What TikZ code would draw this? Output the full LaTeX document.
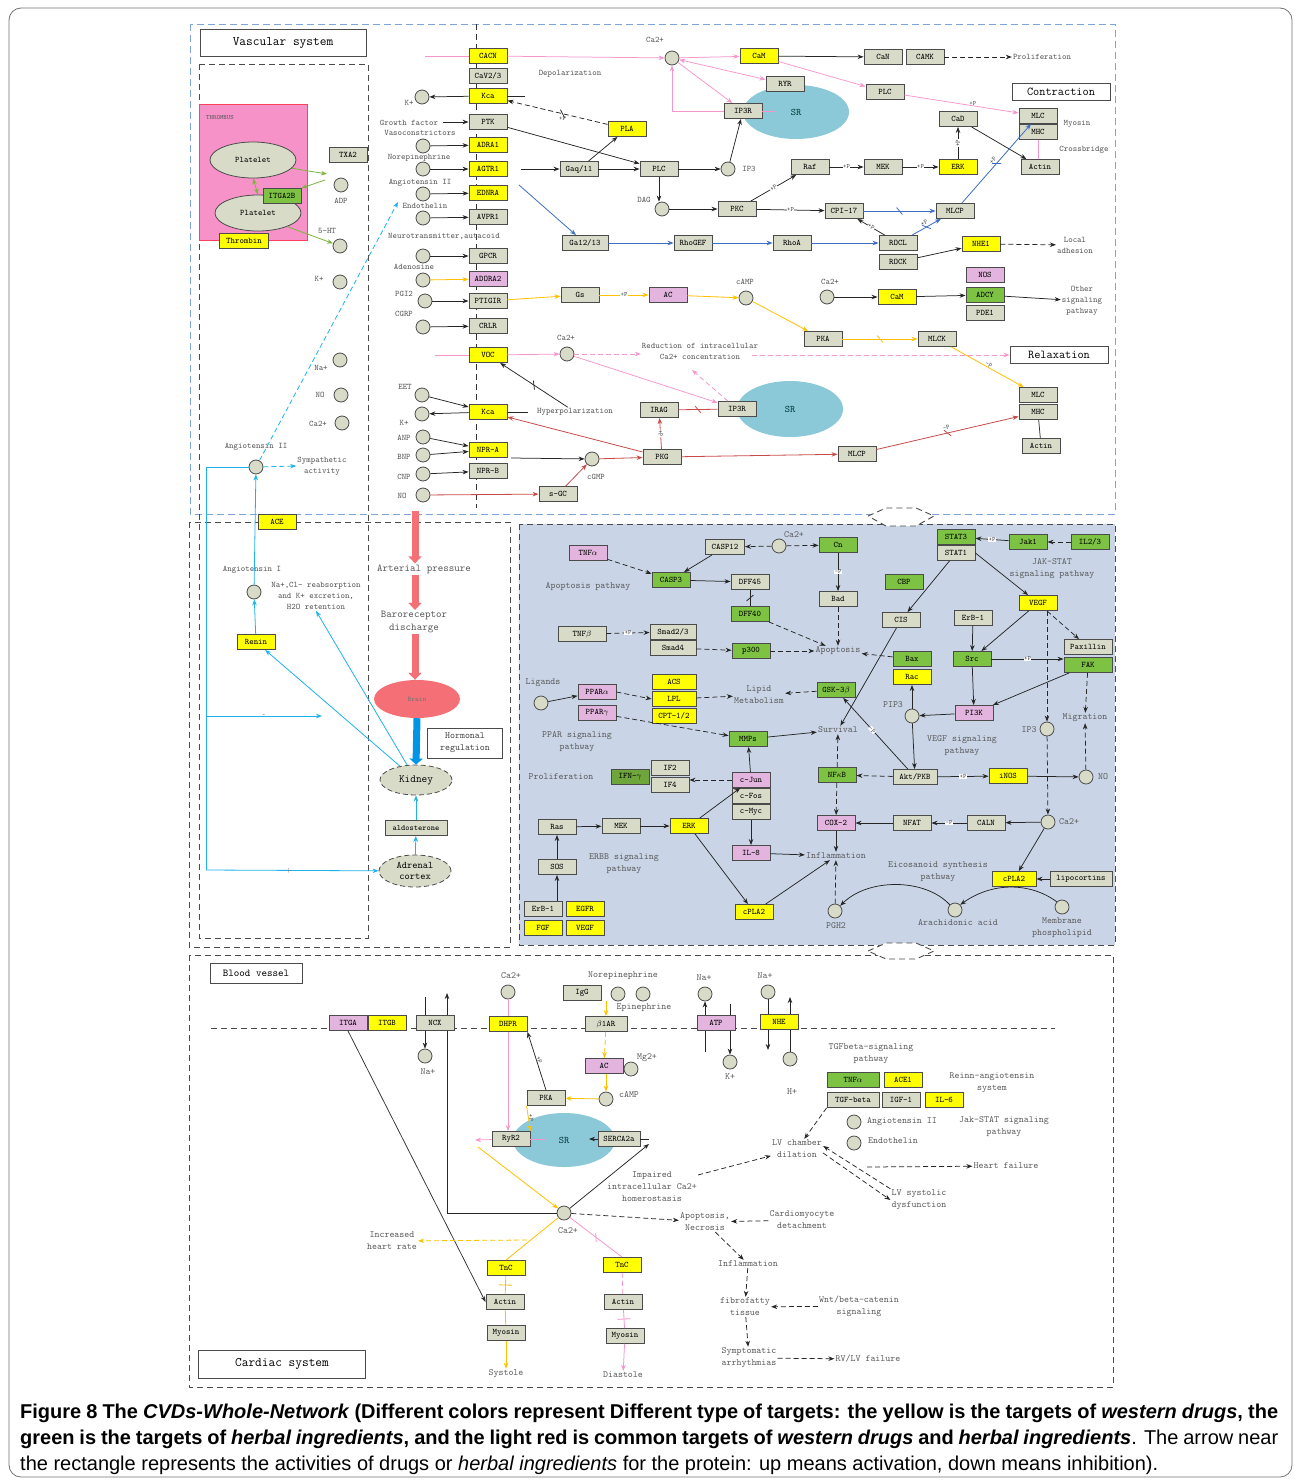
\documentclass[tikz,border=0pt]{standalone}
\usepackage{fontspec}
\newfontfamily\capfont{Liberation Sans}
\usetikzlibrary{positioning,calc,arrows.meta,shapes.geometric}
\tikzset{>={Stealth[length=6pt,width=4.5pt]}}
\definecolor{boxg}{RGB}{216,219,200}
\definecolor{boxy}{RGB}{255,255,0}
\definecolor{boxp}{RGB}{226,180,222}
\definecolor{boxgr}{RGB}{125,194,66}
\definecolor{boxdg}{RGB}{110,166,60}
\definecolor{lpink}{RGB}{246,150,205}
\definecolor{lorange}{RGB}{255,192,0}
\definecolor{lblue}{RGB}{60,110,195}
\definecolor{lred}{RGB}{200,75,75}
\definecolor{lcyan}{RGB}{30,178,236}
\definecolor{lgreen}{RGB}{125,180,60}
\definecolor{frameb}{RGB}{125,165,215}
\definecolor{panel}{RGB}{201,213,230}
\definecolor{srblue}{RGB}{140,201,216}
\definecolor{thromb}{RGB}{246,146,200}
\definecolor{brain}{RGB}{245,112,118}
\definecolor{kblue}{RGB}{0,150,230}
\definecolor{edge}{RGB}{75,75,75}
\newcommand*{\boxfont}{\fontsize{8.5}{9}\selectfont\ttfamily}
\newcommand*{\lblfont}{\fontsize{8.5}{11}\selectfont\ttfamily}
\newcommand*{\lblbfont}{\fontsize{9.5}{12}\selectfont\ttfamily}
\tikzset{
  dashed/.style={dash pattern=on 5pt off 3pt},
  gbox/.style={draw=edge, line width=.9pt, fill=boxg, minimum width=38pt, minimum height=15pt, inner sep=1pt, font=\boxfont},
  ybox/.style={gbox, fill=boxy},
  pbox/.style={gbox, fill=boxp},
  grbox/.style={gbox, fill=boxgr},
  sig/.style={circle, draw=edge, line width=.8pt, fill=boxg, minimum size=14pt, inner sep=0pt},
  ell/.style={ellipse, draw=edge, line width=.8pt, fill=boxg, inner sep=0pt},
  lbl/.style={font=\lblfont, text=black!65, align=center, inner sep=1pt},
  lblb/.style={font=\lblbfont, text=black!65, align=center, inner sep=1pt},
  titlebox/.style={draw=edge, line width=.9pt, fill=white, inner sep=1pt, font=\fontsize{13}{14}\selectfont\ttfamily},
  pl/.style={fill=white, inner sep=.3pt, font=\fontsize{6.5}{7}\selectfont\ttfamily, text=black!70},
  cut/.style={sloped, draw, minimum height=9pt, minimum width=0pt, inner sep=0pt, rotate=40},
  bar/.style={sloped, draw, minimum height=13pt, minimum width=0pt, inner sep=0pt},
  blk/.style={->, line width=.75pt, black!85},
  pk/.style={->, line width=.75pt, lpink},
  og/.style={->, line width=.8pt, lorange},
  bl/.style={->, line width=.8pt, lblue},
  rd/.style={->, line width=.8pt, lred},
  cy/.style={->, line width=.8pt, lcyan},
  gn/.style={->, line width=.8pt, lgreen},
  bigr/.style={line width=7pt, brain, -{Triangle[length=7pt,width=13pt]}},
  frm/.style={draw=edge, line width=.9pt, dash pattern=on 6pt off 4pt}
}
\begin{document}
\begin{tikzpicture}[x=1pt,y=-1pt]
\useasboundingbox (0,0) rectangle (1295,1483);
\fill[white] (0,0) rectangle (1295,1483);
\draw[black!55, line width=.8pt, rounded corners=12pt] (9,8) rectangle (1292,1477);

\draw[frameb, line width=1pt, dash pattern=on 7pt off 4pt] (190,24) rectangle (1115,514);
\draw[frm] (199,64) rectangle (368,938);
\draw[frm, draw=black!80] (476,24) -- (476,508);
\draw[frm] (189,522) rectangle (510,947);
\fill[panel] (519,524) rectangle (1115,945);
\draw[frm] (519,524) rectangle (1115,945);
\draw[frm] (189,955) rectangle (1113,1387);
\draw[frm] (211,1028) -- (1055,1028);
\draw[frm, fill=white] (868,516) -- (886,508) -- (916,508) -- (934,516) -- (916,526) -- (886,526) -- cycle;
\draw[frm, fill=white] (868,951) -- (886,943) -- (916,943) -- (934,951) -- (916,959) -- (886,959) -- cycle;

\node[titlebox, minimum width=166pt, minimum height=27pt] (vas) at (283,43) {Vascular system};
\node[titlebox, minimum width=98pt, minimum height=17pt, font=\fontsize{12}{13}\selectfont\ttfamily] (con) at (1061,92) {Contraction};
\node[titlebox, minimum width=98pt, minimum height=17pt, font=\fontsize{12}{13}\selectfont\ttfamily] (rel) at (1059,355) {Relaxation};
\node[titlebox, minimum width=92pt, minimum height=20pt, font=\fontsize{10.5}{12}\selectfont\ttfamily] (bv) at (256,973) {Blood vessel};
\node[titlebox, minimum width=167pt, minimum height=28pt] (card) at (282,1364) {Cardiac system};

\node[draw=red!55!thromb, line width=.9pt, fill=thromb, minimum width=108pt, minimum height=136pt, anchor=north west, inner sep=0pt] (thr) at (199,104) {};
\node[lbl, font=\fontsize{6.5}{7}\selectfont\ttfamily, anchor=west] (thrl) at (205,118) {THROMBUS};
\node[ell, minimum width=86pt, minimum height=36pt, font=\lblfont] (pl1) at (253,160) {Platelet};
\node[ell, minimum width=86pt, minimum height=36pt, font=\lblfont] (pl2) at (258,213) {Platelet};
\node[grbox] (itg) at (282,196) {ITGA2B};
\node[ybox, minimum width=49pt] (thb) at (244,241) {Thrombin};
\node[gbox] (txa) at (348,155) {TXA2};
\node[sig] (adp) at (341,185) {};
\node[lbl] (adpl) at (341,201) {ADP};
\node[lbl] (htl) at (327,231) {5-HT};
\node[sig] (ht) at (340,246) {};
\node[sig] (kl) at (340,282) {};
\node[lbl] (kll) at (319,279) {K+};
\node[sig] (nal) at (340,360) {};
\node[lbl] (nall) at (321,368) {Na+};
\node[sig] (nol) at (341,395) {};
\node[lbl] (noll) at (320,395) {NO};
\node[sig] (cal) at (342,423) {};
\node[lbl] (call) at (318,424) {Ca2+};
\coordinate (gr1) at (327,174);
\coordinate (gr2) at (325,180);
\draw[gn] (pl1.-12) -- (gr1);
\draw[gn] (gr2) -- (itg.north east);
\draw[gn, <->] (pl1.south) -- (pl2.north);
\draw[gn] (pl2.-25) -- (ht);

\node[sig] (ang2) at (256,467) {};
\node[lbl] (ang2l) at (256,447) {Angiotensin II};
\node[lbl] (syml) at (322,466) {Sympathetic\\activity};
\coordinate (angt) at (398,202);
\draw[cy, dashed] (ang2) -- (angt);
\draw[cy, dashed] (ang2) -- (syml.west);
\node[ybox] (ace) at (277,522) {ACE};
\node[sig] (ang1) at (254,592) {};
\node[lbl] (ang1l) at (252,570) {Angiotensin I};
\node[ybox] (ren) at (256,642) {Renin};
\node[lbl] (nacl) at (316,596) {Na+,Cl- reabsorption\\and K+ excretion,\\H2O retention};
\draw[cy] (ren) -- (ang1);
\draw[cy] (ang1) -- (ang2);

\coordinate (art0) at (415,511);
\node[lbl, font=\fontsize{10.5}{13}\selectfont\ttfamily] (art) at (424,569) {Arterial pressure};
\node[lbl, font=\fontsize{10.5}{13}\selectfont\ttfamily] (baro) at (414,622) {Baroreceptor\\discharge};
\node[ellipse, fill=brain, minimum width=86pt, minimum height=38pt, inner sep=0pt, font=\fontsize{7}{8}\selectfont\ttfamily, text=black!55] (brn) at (417,699) {Brain};
\node[ell, dashed, minimum width=72pt, minimum height=30pt, font=\fontsize{11}{12}\selectfont\ttfamily] (kid) at (416,780) {Kidney};
\node[draw=edge, line width=.9pt, align=center, minimum width=75pt, minimum height=30pt, inner sep=1pt, font=\fontsize{9.5}{12}\selectfont\ttfamily, text=black!75] (horm) at (465,743) {Hormonal\\regulation};
\node[gbox, minimum width=62pt, font=\fontsize{8}{9}\selectfont\ttfamily] (ald) at (416,828) {aldosterone};
\node[ell, dashed, minimum width=72pt, minimum height=32pt, align=center, font=\fontsize{10}{11}\selectfont\ttfamily] (adr) at (415,871) {Adrenal\\cortex};
\draw[bigr] (art0) -- (art0 |- art.north);
\draw[bigr] (art.south -| art0) -- (baro.north -| art0);
\draw[bigr] (baro.south -| art0) -- (brn.north -| art0);
\draw[line width=7pt, kblue, -{Triangle[length=6pt,width=13pt]}] (brn.south) -- (kid.north);
\draw[cy] (adr) -- (ald);
\draw[cy] (ald) -- (kid);
\draw[cy] (kid) -- (ren);
\draw[cy] (kid) -- (nacl.south);
\coordinate (cyt) at (206,467);
\coordinate (cym) at (206,716);
\coordinate (cymr) at (322,716);
\coordinate (cyb) at (206,870);
\draw[lcyan, line width=.8pt] (ang2.west) -- (cyt) -- (cyb);
\draw[cy] (cym) -- node[pos=.5, font=\fontsize{7}{7}\selectfont, text=black!60, inner sep=0pt]{-} (cymr);
\draw[cy] (cyb) -- node[pos=.48, font=\fontsize{7}{7}\selectfont, text=black!60, inner sep=0pt]{+} (adr);

\node[ybox] (cacn) at (488,56) {CACN};
\node[gbox] (cav) at (488,76) {CaV2/3};
\node[ybox] (kca) at (488,96) {Kca};
\node[gbox] (ptk) at (488,122) {PTK};
\node[ybox] (adra) at (488,145) {ADRA1};
\node[ybox] (agtr) at (488,169) {AGTR1};
\node[ybox] (ednra) at (488,193) {EDNRA};
\node[gbox] (avpr) at (488,217) {AVPR1};
\node[gbox] (gpcr) at (488,256) {GPCR};
\node[pbox] (adora) at (488,279) {ADORA2};
\node[gbox] (ptgir) at (488,301) {PTIGIR};
\node[gbox] (crlr) at (488,326) {CRLR};
\node[ybox] (voc) at (488,355) {VOC};
\node[ybox] (kcb) at (488,412) {Kca};
\node[ybox] (npra) at (488,450) {NPR-A};
\node[gbox] (nprb) at (488,471) {NPR-B};

\node[sig] (kp) at (422,97) {};
\node[sig] (nep) at (423,146) {};
\node[sig] (ang) at (423,169) {};
\node[sig] (endo) at (423,194) {};
\node[sig] (ntr) at (423,218) {};
\node[sig] (gp) at (423,256) {};
\node[sig] (ado) at (423,280) {};
\node[sig] (pgi) at (425,301) {};
\node[sig] (cgrp) at (423,327) {};
\node[sig] (eet) at (422,395) {};
\node[sig] (kq) at (422,414) {};
\node[sig] (anp) at (423,437) {};
\node[sig] (bnp) at (423,455) {};
\node[sig] (cnp) at (423,474) {};
\node[sig] (no) at (423,495) {};
\node[lbl] (kpl) at (409,103) {K+};
\node[lbl] (gfl) at (409,123) {Growth factor};
\node[lbl] (vcl) at (420,133) {Vasoconstrictors};
\node[lbl] (nel) at (419,158) {Norepinephrine};
\node[lbl] (angl) at (420,183) {Angiotensin II};
\node[lbl] (endl) at (425,206) {Endothelin};
\node[lbl] (ntl) at (444,236) {Neurotransmitter,autacoid};
\node[lbl] (adl) at (414,267) {Adenosine};
\node[lbl] (pgl) at (404,294) {PGI2};
\node[lbl] (cgl) at (404,314) {CGRP};
\node[lbl] (eetl) at (405,387) {EET};
\node[lbl] (kql) at (404,423) {K+};
\node[lbl] (anpl) at (404,438) {ANP};
\node[lbl] (bnpl) at (404,457) {BNP};
\node[lbl] (cnpl) at (404,477) {CNP};
\node[lbl] (nol2) at (402,496) {NO};

\node[ellipse, fill=srblue, minimum width=106pt, minimum height=54pt, inner sep=0pt, font=\fontsize{10}{12}\selectfont\ttfamily, text=black!55!teal] (sr1) at (796,112) {SR};
\node[ellipse, fill=srblue, minimum width=106pt, minimum height=56pt, inner sep=0pt, font=\fontsize{10}{12}\selectfont\ttfamily, text=black!55!teal] (sr2) at (790,409) {SR};
\node[sig] (ca1) at (672,58) {};
\node[lbl] (ca1l) at (655,40) {Ca2+};
\node[lbl] (depl) at (570,74) {Depolarization};
\node[ybox] (cam) at (759,56) {CaM};
\node[gbox] (can) at (883,57) {CaN};
\node[gbox] (camk) at (925,57) {CAMK};
\node[lbl] (prol) at (1042,57) {Proliferation};
\node[gbox] (ryr) at (785,84) {RYR};
\node[gbox] (plc1) at (885,92) {PLC};
\node[gbox] (ip3r) at (743,111) {IP3R};
\node[ybox] (pla) at (627,129) {PLA};
\node[gbox] (gaq) at (579,169) {Gaq/11};
\node[gbox] (plc2) at (659,169) {PLC};
\node[sig] (ip3) at (728,169) {};
\node[lbl] (ip3l) at (749,169) {IP3};
\node[sig] (dag) at (662,209) {};
\node[lbl] (dagl) at (644,200) {DAG};
\node[gbox] (pkc) at (737,209) {PKC};
\node[gbox] (raf) at (810,167) {Raf};
\node[gbox] (mek) at (883,167) {MEK};
\node[ybox] (erk) at (958,167) {ERK};
\node[gbox] (cad) at (958,119) {CaD};
\node[gbox] (mlc) at (1038,116) {MLC};
\node[gbox] (mhc) at (1038,132) {MHC};
\node[gbox] (act1) at (1040,167) {Actin};
\node[lbl] (myol) at (1077,124) {Myosin};
\node[lbl] (crol) at (1084,150) {Crossbridge};
\node[gbox] (cpi) at (844,211) {CPI-17};
\node[gbox] (mlcp) at (955,211) {MLCP};
\node[gbox, minimum width=46pt] (ga12) at (585,243) {Ga12/13};
\node[gbox] (rhogef) at (693,243) {RhoGEF};
\node[gbox] (rhoa) at (792,243) {RhoA};
\node[gbox] (rocl) at (898,243) {ROCL};
\node[gbox] (rock) at (898,262) {ROCK};
\node[ybox] (nhe1) at (981,244) {NHE1};
\node[lbl] (locl) at (1075,245) {Local\\adhesion};
\node[pbox] (nos) at (985,275) {NOS};
\node[grbox] (adcy) at (985,295) {ADCY};
\node[gbox] (pde) at (985,313) {PDE1};
\node[sig] (ca2) at (827,297) {};
\node[lbl] (ca2l) at (830,282) {Ca2+};
\node[ybox] (cam2) at (897,297) {CaM};
\node[lbl] (othl) at (1082,301) {Other\\signaling\\pathway};
\node[gbox] (gs) at (580,295) {Gs};
\node[pbox] (ac) at (668,295) {AC};
\node[sig] (camp) at (746,298) {};
\node[lbl] (campl) at (745,282) {cAMP};
\node[gbox] (pka) at (823,339) {PKA};
\node[gbox] (mlck) at (937,339) {MLCK};
\node[gbox] (mlc2) at (1038,395) {MLC};
\node[gbox] (mhc2) at (1038,412) {MHC};
\node[gbox] (act2) at (1041,446) {Actin};
\node[sig] (ca3) at (567,354) {};
\node[lbl] (ca3l) at (566,338) {Ca2+};
\node[lbl] (redl) at (700,351) {Reduction of intracellular\\Ca2+ concentration};
\node[lbl] (hyp) at (575,412) {Hyperpolarization};
\node[gbox] (irag) at (659,410) {IRAG};
\node[gbox] (ip3r2) at (737,409) {IP3R};
\node[sig] (cgmp) at (592,459) {};
\node[lbl] (cgmpl) at (596,477) {cGMP};
\node[gbox] (sgc) at (558,494) {s-GC};
\node[gbox] (pkg) at (662,457) {PKG};
\node[gbox] (mlcp2) at (857,454) {MLCP};

\coordinate (pkw) at (425,56);
\coordinate (kcae) at (525,96);
\coordinate (gfe) at (443,122);
\coordinate (agtre) at (521,169);
\coordinate (agtrb) at (519,185);
\coordinate (srp1) at (775,111);
\coordinate (vocw) at (435,355);
\coordinate (redr) at (752,355);
\coordinate (redt) at (692,370);
\coordinate (kcbe) at (528,412);
\coordinate (nprae) at (511,458);
\draw[lpink, line width=.75pt] (pkw) -- (cacn);
\draw[pk] (cacn) -- (ca1);
\draw[pk] (ca1) -- (cam);
\draw[pk, <->] (ca1) -- (ryr);
\draw[pk] (ca1) -- (ip3r);
\draw[pk] (ip3r.west) -| (ca1);
\draw[lpink, line width=.75pt] (ip3r.east) -- (srp1);
\draw[pk] (cam) -- (plc1);
\draw[pk] (plc1) -- node[pl, pos=.6, fill=none, above]{+P} (mlc);
\draw[blk] (cam) -- (can);
\draw[blk, dashed] (camk) -- (prol);
\draw[blk] (kca) -- (kp);
\draw[black!85, line width=.75pt] (kca) -- (kcae);
\draw[blk, dashed] (pla) -- node[cut, pos=.45]{} node[pl, fill=none, below=2pt, pos=.45]{+P} (kca);
\draw[blk] (gfe) -- (ptk);
\draw[blk] (nep) -- (adra);
\draw[blk] (ang) -- (agtr);
\draw[blk] (endo) -- (ednra);
\draw[blk] (ntr) -- (avpr);
\draw[blk] (gp) -- (gpcr);
\draw[og] (ado) -- (adora);
\draw[blk] (pgi) -- (ptgir);
\draw[blk] (cgrp) -- (crlr);
\draw[blk] (agtre) -- (gaq);
\draw[blk] (gaq) -- (plc2);
\draw[blk] (gaq) -- (pla);
\draw[blk] (ptk) -- (plc2);
\draw[blk] (plc2) -- (ip3);
\draw[blk] (ip3) -- (ip3r);
\draw[blk] (plc2) -- (plc2 |- dag.north);
\draw[blk] (dag) -- (pkc);
\draw[blk] (pkc) -- node[pl, sloped]{+P} (raf);
\draw[blk] (pkc) -- node[pl]{+P} (cpi);
\draw[blk] (raf) -- node[pl]{+P} (mek);
\draw[blk] (mek) -- node[pl]{+P} (erk);
\draw[blk] (erk) -- node[pl, sloped]{+P} (cad);
\draw[blk] (cad) -- (act1);
\draw[lpink, line width=.75pt] (mhc) -- (mhc |- act1.north);
\draw[bl] (cpi) -- node[cut]{} (mlcp);
\draw[bl] (mlcp) -- node[cut]{} node[pl, sloped, above=2pt, fill=none]{+P} (mlc);
\draw[bl] (agtrb) -- (ga12);
\draw[bl] (ga12) -- (rhogef);
\draw[bl] (rhogef) -- (rhoa);
\draw[bl] (rhoa) -- (rocl);
\draw[bl] (rocl) -- node[cut]{} node[pl, sloped, above=2pt, fill=none]{+P} (mlcp);
\draw[blk] (rocl) -- node[pl, sloped]{+P} (cpi);
\draw[blk] (rock) -- (nhe1);
\draw[blk, dashed] (nhe1) -- (locl);
\draw[blk] (ca2) -- (cam2);
\draw[blk] (cam2) -- (adcy);
\draw[blk] (adcy) -- (othl);
\draw[og] (ptgir) -- (gs);
\draw[og] (gs) -- node[pl]{+P} (ac);
\draw[og] (ac) -- (camp);
\draw[og] (camp) -- (pka);
\draw[og] (pka) -- node[cut]{} (mlck);
\draw[og] (mlck) -- node[pl, sloped, fill=none, above]{-P} (mlc2);
\draw[lpink, line width=.75pt] (vocw) -- (voc);
\draw[pk] (voc) -- (ca3);
\draw[pk, dashed] (ca3) -- (redl.west |- ca3);
\draw[pk, dashed] (redr) -- (rel);
\draw[pk] (ca3) -- (ip3r2);
\draw[pk, dashed] (ip3r2) -- (redt);
\draw[blk] (hyp) -- node[cut]{} (voc);
\draw[blk] (kcb) -- (kq);
\draw[black!85, line width=.75pt] (kcb) -- (kcbe);
\draw[blk] (eet) -- (kcb);
\draw[blk] (anp) -- (npra);
\draw[blk] (bnp) -- (npra);
\draw[blk] (cnp) -- (nprb);
\draw[blk] (nprae) -- (cgmp);
\draw[rd] (no) -- (sgc);
\draw[rd] (sgc) -- (cgmp);
\draw[rd] (cgmp) -- (pkg);
\draw[rd] (pkg) -- node[pl, sloped]{+P} (irag);
\draw[lred, line width=.8pt] (irag) -- node[cut]{} (ip3r2);
\draw[rd] (pkg) -- (kcb);
\draw[rd] (pkg) -- (mlcp2);
\draw[rd] (mlcp2) -- node[cut]{} node[pl, sloped, above=3pt, fill=none]{-P} (mhc2);
\draw[black!80, line width=.75pt] (mhc2) -- (act2);

\node[pbox] (tnfa) at (588,553) {TNF$\alpha$};
\node[grbox] (casp3) at (671,580) {CASP3};
\node[gbox, minimum width=39pt] (casp12) at (725,547) {CASP12};
\node[sig] (ca4) at (779,546) {};
\node[lblb] (ca4l) at (794,535) {Ca2+};
\node[grbox] (cn) at (838,545) {Cn};
\node[gbox] (dff45) at (750,582) {DFF45};
\node[grbox] (dff40) at (750,614) {DFF40};
\node[gbox] (bad) at (838,599) {Bad};
\node[grbox] (cbp) at (904,582) {CBP};
\node[grbox] (stat3) at (956,537) {STAT3};
\node[gbox] (stat1) at (956,553) {STAT1};
\node[grbox] (jak) at (1028,542) {Jak1};
\node[grbox] (il23) at (1090,542) {IL2/3};
\node[lblb] (jakl) at (1052,569) {JAK-STAT\\signaling pathway};
\node[gbox] (cis) at (901,620) {CIS};
\node[gbox] (erb1) at (973,618) {ErB-1};
\node[ybox] (vegf) at (1038,603) {VEGF};
\node[grbox] (src) at (972,659) {Src};
\node[gbox, minimum width=48pt] (pax) at (1088,647) {Paxillin};
\node[grbox, minimum width=48pt] (fak) at (1088,665) {FAK};
\node[grbox] (bax) at (912,659) {Bax};
\node[ybox] (rac) at (912,677) {Rac};
\node[sig] (pip3) at (912,716) {};
\node[lblb] (pip3l) at (893,705) {PIP3};
\node[pbox] (pi3k) at (974,713) {PI3K};
\node[sig] (ip3b) at (1047,729) {};
\node[lblb] (ip3bl) at (1029,730) {IP3};
\node[lblb] (migl) at (1085,718) {Migration};
\node[lblb] (vegfl) at (962,746) {VEGF signaling\\pathway};
\node[lblb] (surv) at (838,730) {Survival};
\node[lblb] (apop) at (838,651) {Apoptosis};
\node[lblb] (apopl) at (588,587) {Apoptosis pathway};
\node[gbox, minimum width=48pt] (tnfb) at (582,634) {TNF$\beta$};
\node[gbox, minimum width=46pt] (smad23) at (673,632) {Smad2/3};
\node[gbox, minimum width=46pt] (smad4) at (673,648) {Smad4};
\node[grbox] (p300) at (751,651) {p300};
\node[lblb] (ligl) at (543,683) {Ligands};
\node[sig] (lig) at (541,703) {};
\node[pbox] (ppara) at (597,692) {PPAR$\alpha$};
\node[pbox] (pparg) at (597,713) {PPAR$\gamma$};
\node[ybox, minimum width=44pt] (acs) at (674,682) {ACS};
\node[ybox, minimum width=44pt] (lpl) at (674,699) {LPL};
\node[ybox, minimum width=44pt] (cpt) at (674,716) {CPT-1/2};
\node[lblb] (lipl) at (759,695) {Lipid\\Metabolism};
\node[grbox] (gsk) at (836,690) {GSK-3$\beta$};
\node[grbox] (mmp) at (748,739) {MMPs};
\node[lblb] (pparl) at (577,742) {PPAR signaling\\pathway};
\node[lblb] (prl) at (561,777) {Proliferation};
\node[gbox, fill=boxdg] (ifn) at (630,777) {IFN-$\gamma$};
\node[gbox] (if2) at (670,768) {IF2};
\node[gbox] (if4) at (670,785) {IF4};
\node[pbox] (cjun) at (751,780) {c-Jun};
\node[gbox] (cfos) at (751,796) {c-Fos};
\node[gbox] (cmyc) at (751,812) {c-Myc};
\node[gbox] (ras) at (557,827) {Ras};
\node[gbox] (mek2) at (621,826) {MEK};
\node[ybox] (erk2) at (689,826) {ERK};
\node[gbox] (sos) at (557,867) {SOS};
\node[gbox] (erb2) at (543,909) {ErB-1};
\node[ybox] (egfr) at (585,909) {EGFR};
\node[ybox] (fgf) at (543,928) {FGF};
\node[ybox] (vegf2) at (585,928) {VEGF};
\node[lblb] (erbbl) at (624,864) {ERBB signaling\\pathway};
\node[pbox] (il8) at (751,853) {IL-8};
\node[ybox] (cpla) at (754,912) {cPLA2};
\node[lblb] (infl) at (836,856) {Inflammation};
\node[grbox] (nfkb) at (837,775) {NF$\kappa$B};
\node[gbox, minimum width=44pt] (akt) at (915,777) {Akt/PKB};
\node[ybox] (inos) at (1008,776) {iNOS};
\node[sig] (nob) at (1086,777) {};
\node[lblb] (nobl) at (1103,777) {NO};
\node[pbox] (cox) at (836,823) {COX-2};
\node[gbox] (nfat) at (912,823) {NFAT};
\node[gbox] (caln) at (986,823) {CALN};
\node[sig] (ca5) at (1048,822) {};
\node[lblb] (ca5l) at (1069,822) {Ca2+};
\node[ybox, minimum width=44pt] (cpla2) at (1014,879) {cPLA2};
\node[gbox, minimum width=62pt] (lipo) at (1081,879) {lipocortins};
\node[lblb] (eicl) at (938,872) {Eicosanoid synthesis\\pathway};
\node[sig] (pgh) at (835,911) {};
\node[lblb] (pghl) at (836,926) {PGH2};
\node[sig] (ara) at (955,910) {};
\node[lblb] (aral) at (958,923) {Arachidonic acid};
\node[sig] (mem) at (1062,907) {};
\node[lblb] (meml) at (1062,928) {Membrane\\phospholipid};

\draw[blk, dashed] (tnfa) -- (casp3);
\draw[blk] (casp12) -- (casp3);
\draw[blk, dashed] (ca4) -- (casp12);
\draw[blk, dashed] (ca4) -- (cn);
\draw[blk] (casp3) -- (dff45);
\draw[black!85, line width=.75pt] (dff40) -- node[cut]{} (dff45);
\draw[blk, dashed] (dff40) -- (apop);
\draw[blk] (cn) -- node[pl]{-P} (bad);
\draw[blk, dashed] (bad) -- (apop);
\draw[blk, dashed] (tnfb) -- node[pl]{+P} (smad23);
\draw[blk, dashed] (smad4) -- (p300);
\draw[blk, dashed] (p300) -- (apop);
\draw[blk, dashed] (bax) -- (apop);
\draw[blk, dashed] (gsk) -- (lipl);
\draw[blk] (lig) -- (ppara);
\draw[blk, dashed] (ppara.east) -- (lpl.west);
\draw[blk, dashed] (lpl) -- (lipl);
\draw[blk, dashed] (pparg) -- (mmp);
\draw[blk] (mmp) -- (surv);
\draw[blk] (cis) -- (surv);
\draw[blk] (akt) -- node[pl, sloped, pos=.55]{-P} (gsk);
\draw[blk] (pip3) -- (akt);
\draw[blk] (pi3k) -- (pip3);
\draw[blk] (pip3) -- (rac);
\draw[blk] (stat1) -- (cis);
\draw[blk] (stat1.east) -- (vegf);
\draw[blk] (jak) -- node[pl]{+P} (stat3);
\draw[blk, dashed] (il23) -- (jak);
\draw[blk] (vegf) -- (src);
\draw[blk, dashed] (vegf) -- (pax);
\draw[blk, dashed] (vegf.south -| ip3b) -- (ip3b);
\draw[blk] (erb1) -- (src);
\draw[blk] (src) -- node[pl]{+P} (src -| pax.west);
\draw[blk] (src) -- (pi3k);
\draw[blk] (fak) -- (pi3k);
\draw[blk, dashed] (fak) -- (migl);
\draw[blk, dashed] (nob) -- (migl);
\draw[blk, dashed] (akt) -- (nfkb);
\draw[blk, dashed] (nfkb) -- (surv);
\draw[blk] (akt) -- node[pl]{+P} (inos);
\draw[blk] (inos) -- (nob);
\draw[blk, dashed] (ip3b) -- (ca5);
\draw[blk] (ca5) -- (caln);
\draw[blk] (caln) -- node[pl]{-P} (nfat);
\draw[blk] (nfat) -- (cox);
\draw[blk, dashed] (nfkb) -- (cox);
\draw[blk] (cox) -- (infl);
\draw[blk, dashed] (pgh) -- (infl);
\draw[blk] (ca5) -- (cpla2);
\draw[blk] (lipo) -- (cpla2);
\draw[blk] (ara.north west) .. controls (925,878) and (868,878) .. (pgh.north east);
\draw[blk] (mem.north west) .. controls (1030,882) and (992,882) .. (ara.north east);
\draw[blk] (erk2) -- (cjun);
\draw[blk] (erk2) -- (cpla);
\draw[blk] (cpla) -- (infl);
\draw[blk] (cmyc) -- (il8);
\draw[blk] (il8) -- (infl);
\draw[blk] (cjun) -- (mmp);
\draw[blk, dashed] (cjun.west) -- (cjun.west -| if4.east);
\draw[blk] (ras) -- (mek2);
\draw[blk] (mek2) -- (erk2);
\draw[blk] (sos) -- (ras);
\draw[blk] (erb2.north -| sos) -- (sos);

\node[ellipse, fill=srblue, minimum width=102pt, minimum height=54pt, inner sep=0pt, font=\fontsize{10}{12}\selectfont\ttfamily, text=black!55!teal] (sr3) at (564,1140) {SR};
\node[sig] (na1) at (425,1056) {};
\node[lblb] (na1l) at (428,1072) {Na+};
\node[sig] (ca6) at (564,1213) {};
\node[lblb] (ca6l) at (568,1231) {Ca2+};
\coordinate (ncxt) at (425,997);
\coordinate (ncxu) at (447,993);
\draw[blk] (ncxt) -- (na1);
\draw[blk] (ca6) -| (ncxu);
\node[pbox] (itga) at (348,1023) {ITGA};
\node[ybox] (itgb) at (387,1023) {ITGB};
\node[gbox] (ncx) at (435,1023) {NCX};
\node[sig] (ca7) at (508,992) {};
\node[lblb] (ca7l) at (511,976) {Ca2+};
\node[ybox] (dhpr) at (508,1024) {DHPR};
\node[gbox] (igg) at (582,993) {IgG};
\node[sig] (ne) at (618,994) {};
\node[sig] (ep) at (643,994) {};
\node[lblb] (nel2) at (623,976) {Norepinephrine};
\node[lblb] (epl) at (644,1008) {Epinephrine};
\node[gbox, minimum width=42pt] (b1ar) at (606,1024) {$\beta$1AR};
\node[pbox] (ac2) at (604,1066) {AC};
\node[sig] (mg) at (631,1069) {};
\node[lblb] (mgl) at (647,1058) {Mg2+};
\node[sig] (camp2) at (606,1099) {};
\node[lblb] (camp2l) at (629,1095) {cAMP};
\node[gbox] (pka2) at (546,1098) {PKA};
\node[gbox] (ryr2) at (511,1139) {RyR2};
\node[gbox, minimum width=42pt] (serca) at (619,1139) {SERCA2a};
\node[sig] (na2) at (705,994) {};
\node[lblb] (na2l) at (704,978) {Na+};
\node[sig] (k2) at (730,1062) {};
\node[lblb] (k2l) at (730,1077) {K+};
\coordinate (atpb) at (705,1052);
\coordinate (atpt) at (730,1004);
\draw[blk] (atpb) -- (na2);
\draw[blk] (atpt) -- (k2);
\node[pbox] (atp) at (716,1023) {ATP};
\node[sig] (na3) at (768,992) {};
\node[lblb] (na3l) at (765,976) {Na+};
\node[sig] (hp) at (790,1059) {};
\node[lblb] (hpl) at (792,1092) {H+};
\coordinate (nheb) at (768,1050);
\coordinate (nhet) at (790,997);
\draw[blk] (na3) -- (nheb);
\draw[blk] (hp) -- (nhet);
\node[ybox] (nhe) at (779,1022) {NHE};

\node[ybox] (tnc1) at (506,1268) {TnC};
\node[gbox] (act3) at (505,1302) {Actin};
\node[gbox] (myo1) at (506,1333) {Myosin};
\node[lblb] (sysl) at (506,1374) {Systole};
\node[ybox] (tnc2) at (622,1265) {TnC};
\node[gbox] (act4) at (623,1302) {Actin};
\node[gbox] (myo2) at (625,1336) {Myosin};
\node[lblb] (dial) at (623,1375) {Diastole};
\node[lblb] (hrl) at (392,1241) {Increased\\heart rate};

\coordinate (igb) at (606,1001);
\coordinate (ryrl) at (475,1140);
\coordinate (srp3) at (545,1139);
\coordinate (ogs) at (478,1147);
\coordinate (sercae) at (649,1144);
\coordinate (sercaw) at (589,1139);
\coordinate (ohr) at (527,1240);
\draw[lpink, line width=.75pt] (ca7) -- (dhpr);
\draw[pk] (dhpr.south -| ca7) -- (ca7 |- ryr2.north);
\draw[og] (igb) -- (b1ar);
\draw[og, dashed] (b1ar) -- (ac2);
\draw[og] (ac2.south -| camp2) -- (camp2);
\draw[og] (camp2) -- (pka2);
\draw[blk] (pka2.north) -- node[pl, sloped, fill=none, above]{+P} (dhpr.south east);
\draw[og] (pka2.south west) -- node[pl, sloped, fill=none, above]{+P} (ryr2.north east);
\draw[pk] (ryr2) -- (ryrl);
\draw[lpink, line width=.75pt] (ryr2.east) -- (srp3);
\draw[og] (ogs) -- (ca6);
\draw[blk] (ca6) -- (sercae);
\draw[black!85, line width=.75pt] (serca.east) -- (serca.east -| sercae);
\draw[blk] (serca.west) -- (sercaw);
\draw[black!80, line width=.75pt, ->] (itga.south) -- (act3.west);
\draw[lorange, line width=.8pt] (ca6) -- (tnc1.north);
\draw[og, dashed] (ohr) -- (hrl);
\draw[lpink, line width=.8pt] (ca6) -- node[cut]{} (tnc2.north);
\draw[lorange, line width=.8pt] (tnc1) -- node[bar]{} (act3);
\draw[lorange, line width=.8pt] (act3) -- (myo1);
\draw[og] (myo1) -- (sysl);
\draw[lpink, line width=.8pt, dashed] (tnc2) -- (act4);
\draw[lpink, line width=.8pt] (act4) -- node[bar]{} (myo2);
\draw[pk] (myo2) -- (dial);

\node[lblb] (tgfl) at (871,1054) {TGFbeta-signaling\\pathway};
\node[grbox, minimum width=52pt] (tnfa2) at (853,1080) {TNF$\alpha$};
\node[ybox] (ace1) at (903,1080) {ACE1};
\node[gbox, minimum width=52pt] (tgfb) at (853,1100) {TGF-beta};
\node[gbox] (igf) at (901,1100) {IGF-1};
\node[ybox] (il6) at (944,1100) {IL-6};
\node[lblb] (rasl) at (992,1083) {Reinn-angiotensin\\system};
\node[sig] (ang3) at (854,1122) {};
\node[lblb] (ang3l) at (902,1122) {Angiotensin II};
\node[sig] (end3) at (854,1143) {};
\node[lblb] (end3l) at (893,1141) {Endothelin};
\node[lblb] (jsl) at (1004,1127) {Jak-STAT signaling\\pathway};
\node[lblb] (lvl) at (797,1149) {LV chamber\\dilation};
\node[lblb] (impl) at (652,1187) {Impaired\\intracellular Ca2+\\homerostasis};
\node[lblb] (lvsl) at (919,1200) {LV systolic\\dysfunction};
\node[lblb] (hfl) at (1006,1166) {Heart failure};
\node[lblb] (apnl) at (705,1222) {Apoptosis,\\Necrosis};
\node[lblb] (cdl) at (802,1220) {Cardiomyocyte\\detachment};
\node[lblb] (infl2) at (748,1264) {Inflammation};
\node[lblb] (fibl) at (745,1307) {fibrofatty\\tissue};
\node[lblb] (wntl) at (859,1306) {Wnt/beta-catenin\\signaling};
\node[lblb] (syml2) at (749,1358) {Symptomatic\\arrhythmias};
\node[lblb] (rvl) at (868,1359) {RV/LV failure};
\coordinate (hfs) at (867,1167);
\draw[blk, dashed] (tgfb.south west) -- (lvl);
\draw[blk, dashed] (impl) -- (lvl);
\draw[blk, dashed] (lvsl.north west) -- ([yshift=3pt]lvl.east);
\draw[blk, dashed] ([yshift=-4pt]lvl.east) -- (lvsl.west);
\draw[blk, dashed] (hfs) -- (hfl);
\draw[blk, dashed] (ca6) -- (apnl);
\draw[blk, dashed] (cdl) -- (apnl);
\draw[blk, dashed] (apnl) -- (infl2);
\draw[blk, dashed] (infl2) -- (fibl);
\draw[blk, dashed] (wntl) -- (fibl);
\draw[blk, dashed] (fibl) -- (syml2);
\draw[blk, dashed] (syml2) -- (rvl);

\node[anchor=base west, inner sep=0pt, font=\capfont\fontsize{20}{24}\selectfont] (cap1) at (20,1418) {\makebox[1258pt][s]{\bfseries Figure 8 The \textit{CVDs-Whole-Network} (Different colors represent Different type of targets: the yellow is the targets of \textit{western drugs}, the}};
\node[anchor=base west, inner sep=0pt, font=\capfont\fontsize{20}{24}\selectfont] (cap2) at (20,1444) {\makebox[1258pt][s]{\bfseries green is the targets of \textit{herbal ingredients}, and the light red is common targets of \textit{western drugs} and \textit{herbal ingredients}\mdseries. The arrow near}};
\node[anchor=base west, inner sep=0pt, font=\capfont\fontsize{20}{24}\selectfont] (cap3) at (20,1470) {the rectangle represents the activities of drugs or \textit{herbal ingredients} for the protein: up means activation, down means inhibition).};
\end{tikzpicture}
\end{document}
